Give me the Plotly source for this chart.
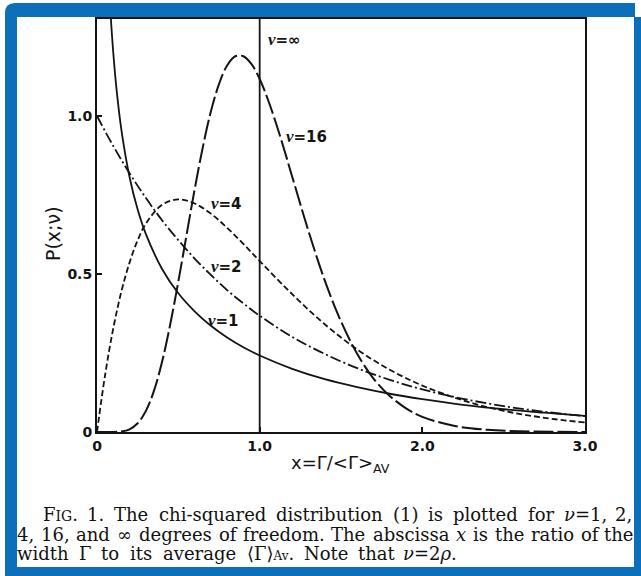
import plotly.graph_objects as go

# ---- data ----
x_nu1 = [0.085, 0.1, 0.12, 0.15, 0.2, 0.25, 0.3, 0.4, 0.5, 0.6, 0.7, 0.8, 0.9, 1.0,
         1.2, 1.4, 1.6, 1.8, 2.0, 2.25, 2.5, 2.75, 3.0]
p_nu1 = [1.31, 1.20, 1.085, 0.956, 0.807, 0.704, 0.627, 0.516, 0.439, 0.382, 0.336, 0.299,
         0.268, 0.242, 0.200, 0.167, 0.142, 0.121, 0.104, 0.086, 0.072, 0.061, 0.051]

x_nu2 = [0, 0.1, 0.2, 0.3, 0.4, 0.5, 0.6, 0.7, 0.8, 0.9, 1.0, 1.2, 1.4, 1.6, 1.8, 2.0,
         2.25, 2.5, 2.75, 3.0]
p_nu2 = [1.0, 0.905, 0.819, 0.741, 0.670, 0.607, 0.549, 0.497, 0.449, 0.407, 0.368, 0.301,
         0.247, 0.202, 0.165, 0.135, 0.105, 0.082, 0.064, 0.050]

x_nu4 = [0, 0.05, 0.1, 0.15, 0.2, 0.25, 0.3, 0.4, 0.5, 0.6, 0.7, 0.8, 0.9, 1.0, 1.2, 1.4,
         1.6, 1.8, 2.0, 2.25, 2.5, 2.75, 3.0]
p_nu4 = [0, 0.181, 0.328, 0.445, 0.536, 0.607, 0.659, 0.719, 0.736, 0.723, 0.691, 0.646,
         0.595, 0.541, 0.436, 0.341, 0.261, 0.197, 0.147, 0.100, 0.067, 0.045, 0.030]

x_nu16 = [0, 0.1, 0.15, 0.2, 0.25, 0.3, 0.35, 0.4, 0.45, 0.5, 0.55, 0.6, 0.65, 0.7, 0.75,
          0.8, 0.85, 0.9, 0.95, 1.0, 1.05, 1.1, 1.15, 1.2, 1.3, 1.4, 1.5, 1.6, 1.7, 1.8,
          1.9, 2.0, 2.2, 2.4, 2.6, 2.8, 3.0]
p_nu16 = [0, 0.0002, 0.0017, 0.0086, 0.0275, 0.066, 0.130, 0.222, 0.340, 0.476, 0.622,
          0.767, 0.900, 1.014, 1.101, 1.160, 1.189, 1.189, 1.164, 1.117, 1.053, 0.978,
          0.895, 0.808, 0.636, 0.480, 0.350, 0.247, 0.169, 0.114, 0.075, 0.048, 0.019,
          0.007, 0.0025, 0.0008, 0.0003]

x_inf = [1.0, 1.0]
p_inf = [0.0, 1.31]

x_tickvals = [0, 1, 2, 3]
x_ticktext = ["0", "1.0", "2.0", "3.0"]
y_tickvals = [0, 0.5, 1.0]
y_ticktext = ["0", "0.5", "1.0"]

# ---- layout geometry (pixels) ----
WIDTH, HEIGHT = 641, 576
L, R, T, B = 97, 585, 19, 432
PW, PH = R - L, B - T


def px(x):
    return (x - L) / PW


def py(y):
    return (B - y) / PH


INK = "#141414"
BLUE = "#0b6fba"
SANS = "DejaVu Sans"
SERIF = "DejaVu Serif"

fig = go.Figure()

curve_style = dict(mode="lines", line_shape="spline", hoverinfo="skip", showlegend=False)
fig.add_trace(go.Scatter(x=x_nu1, y=p_nu1, line=dict(color=INK, width=1.8), **curve_style))
fig.add_trace(go.Scatter(x=x_nu2, y=p_nu2,
                         line=dict(color=INK, width=1.8, dash="11px,3px,2px,3px"), **curve_style))
fig.add_trace(go.Scatter(x=x_nu4, y=p_nu4,
                         line=dict(color=INK, width=1.8, dash="6px,3px"), **curve_style))
fig.add_trace(go.Scatter(x=x_nu16, y=p_nu16,
                         line=dict(color=INK, width=2.0, dash="20px,4px"), **curve_style))
fig.add_trace(go.Scatter(x=x_inf, y=p_inf, mode="lines", hoverinfo="skip", showlegend=False,
                         line=dict(color=INK, width=1.8)))

# ---- frame ----
shapes = []
r = 10
frame_path = (
    f"M {px(5)},{py(3 + r)} Q {px(5)},{py(3)} {px(5 + r)},{py(3)} "
    f"L {px(635)},{py(3)} L {px(635)},{py(17)} L {px(646)},{py(17)} "
    f"L {px(646)},{py(582)} L {px(5)},{py(582)} Z"
)
shapes.append(dict(type="path", xref="paper", yref="paper", path=frame_path,
                   fillcolor=BLUE, line=dict(width=0), layer="below"))
shapes.append(dict(type="rect", xref="paper", yref="paper",
                   x0=px(17), x1=px(634), y0=py(567), y1=py(17),
                   fillcolor="white", line=dict(width=0), layer="below"))

# ---- annotations ----
ann = []


def label(text, cx, cy, font, xanchor="center", **kw):
    d = dict(text=text, x=px(cx), y=py(cy), xref="paper", yref="paper",
             showarrow=False, xanchor=xanchor, yanchor="middle", font=font)
    d.update(kw)
    ann.append(d)


nu = "<span style='font-family:Liberation Serif;font-size:17px'><i>ν</i></span>"
lab_font = dict(family=SANS, size=15, color=INK, weight="bold")
label(f"{nu}=∞", 284, 40, lab_font)
label(f"{nu}=16", 306, 136, lab_font)
label(f"{nu}=4", 226, 203, lab_font)
label(f"{nu}=2", 226, 266, lab_font)
label(f"{nu}=1", 223, 320, lab_font)

label("P(x;ν)", 53, 234, dict(family=SANS, size=19, color=INK), textangle=-90)
label("x=Γ/&lt;Γ&gt;<sub>AV</sub>", 340, 464, dict(family=SANS, size=18, color=INK))

# ---- caption, set word by word and justified like the printed page ----
CAP = 18
CW = {' ': .318, 'a': .596, 'b': .640, 'c': .560, 'd': .640, 'e': .592, 'f': .370,
      'g': .640, 'h': .644, 'i': .320, 'j': .310, 'k': .606, 'l': .320, 'm': .948,
      'n': .644, 'o': .602, 'p': .640, 'q': .640, 'r': .478, 's': .513, 't': .402,
      'u': .644, 'v': .565, 'w': .856, 'x': .564, 'y': .565, 'z': .527, '.': .318,
      ',': .318, '-': .338, '(': .390, ')': .390, '=': .838, 'T': .682, 'N': .771,
      'F': .683, 'I': .372, 'G': .775, 'Γ': .637, '∞': .838, '⟨': .390, '⟩': .390,
      'ν': .570, 'ρ': .620, 'A': .722, 'V': .722}
for dgt in "0123456789":
    CW[dgt] = .636


def wpx(parts):
    return sum(sum(CW.get(ch, .6) for ch in s) * size for s, size in parts)


small = "<span style='font-size:14px'>{}</span>"
tiny = "<span style='font-size:12px'>{}</span>"
cap_lines = [
    (42, 633, 514, [
        ("F" + small.format("IG") + ".", [("F", CAP), ("IG", 14), (".", CAP)]),
        ("1.", [("1.", CAP)]), ("The", [("The", CAP)]),
        ("chi-squared", [("chi-squared", CAP)]), ("distribution", [("distribution", CAP)]),
        ("(1)", [("(1)", CAP)]), ("is", [("is", CAP)]), ("plotted", [("plotted", CAP)]),
        ("for", [("for", CAP)]), ("<i>ν</i>=1,", [("ν=1,", CAP)]), ("2,", [("2,", CAP)]),
    ]),
    (16, 634, 534, [
        ("4,", [("4,", CAP)]), ("16,", [("16,", CAP)]), ("and", [("and", CAP)]),
        ("∞", [("∞", CAP)]), ("degrees", [("degrees", CAP)]), ("of", [("of", CAP)]),
        ("freedom.", [("freedom.", CAP)]), ("The", [("The", CAP)]),
        ("abscissa", [("abscissa", CAP)]), ("<i>x</i>", [("x", CAP)]), ("is", [("is", CAP)]),
        ("the", [("the", CAP)]), ("ratio", [("ratio", CAP)]), ("of", [("of", CAP)]),
        ("the", [("the", CAP)]),
    ]),
    (16, 458, 553, [
        ("width", [("width", CAP)]), ("Γ", [("Γ", CAP)]), ("to", [("to", CAP)]),
        ("its", [("its", CAP)]), ("average", [("average", CAP)]),
        ("⟨Γ⟩" + tiny.format("Av") + ".", [("⟨Γ⟩", CAP), ("Av", 12), (".", CAP)]),
        ("Note", [("Note", CAP)]), ("that", [("that", CAP)]),
        ("<i>ν</i>=2<i>ρ</i>.", [("ν=2ρ.", CAP)]),
    ]),
]
cap_font = dict(family=SERIF, size=CAP, color="#111111")
for x0, x1, cy, words in cap_lines:
    widths = [wpx(parts) for _, parts in words]
    gap = (x1 - x0 - sum(widths)) / (len(words) - 1)
    xpos = x0
    for i, ((markup, _), w) in enumerate(zip(words, widths)):
        if i == len(words) - 1:
            label(markup, x1, cy, cap_font, xanchor="right", borderpad=0)
        else:
            label(markup, xpos, cy, cap_font, xanchor="left", borderpad=0)
        xpos += w + gap

fig.update_layout(
    width=WIDTH, height=HEIGHT,
    margin=dict(l=L, r=WIDTH - R, t=T, b=HEIGHT - B, pad=0),
    paper_bgcolor="white", plot_bgcolor="white",
    shapes=shapes, annotations=ann, showlegend=False,
)
axis_common = dict(showgrid=False, zeroline=False, showline=True, linecolor=INK, linewidth=2,
                   mirror=True, ticks="inside", ticklen=5, tickwidth=1.5, tickcolor=INK,
                   tickfont=dict(family=SANS, size=14, color=INK, weight="bold"))
fig.update_xaxes(range=[0, 3.0], tickvals=x_tickvals, ticktext=x_ticktext, **axis_common)
fig.update_yaxes(range=[0, (B - T) / 316.0], tickvals=y_tickvals, ticktext=y_ticktext,
                 **axis_common)

fig.write_html(
    "out.html",
    config={"displayModeBar": False},
    post_script=("document.body.style.margin='0';"
                 "document.body.style.overflow='hidden';"
                 "document.documentElement.style.overflow='hidden';"),
)
